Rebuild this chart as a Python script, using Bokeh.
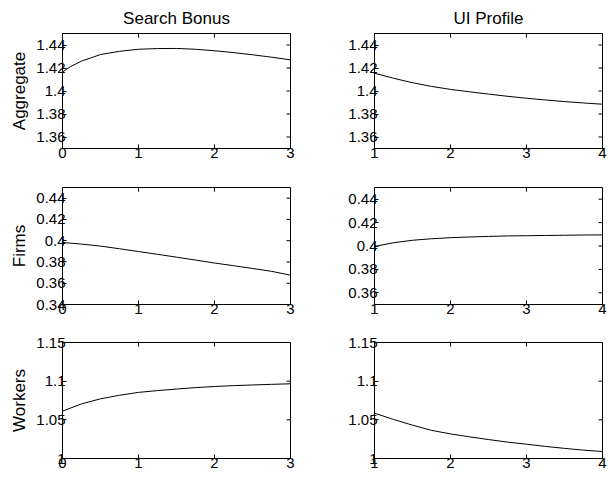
import math
from bokeh.plotting import figure
from bokeh.layouts import column, row
from bokeh.models import FixedTicker, LinearAxis, CustomJSTickFormatter, Range1d
from bokeh.embed import file_html
from bokeh.resources import INLINE

# ---- data ----
col_titles = ["Search Bonus", "UI Profile"]
row_labels = ["Aggregate", "Firms", "Workers"]

x_sb = [0, 0.1, 0.25, 0.5, 0.75, 1, 1.25, 1.5, 1.75, 2, 2.25, 2.5, 2.75, 3]
x_ui = [1, 1.25, 1.5, 1.75, 2, 2.25, 2.5, 2.75, 3, 3.25, 3.5, 3.75, 4]

agg_sb = [1.4165, 1.4210, 1.4260, 1.4317, 1.4345, 1.4363, 1.4369, 1.4370, 1.4363, 1.4350, 1.4334, 1.4315, 1.4294, 1.4271]
firms_sb = [0.3983, 0.3977, 0.3968, 0.3949, 0.3924, 0.3898, 0.3872, 0.3845, 0.3818, 0.3790, 0.3765, 0.3739, 0.3712, 0.3676]
workers_sb = [1.0612, 1.0650, 1.0706, 1.0772, 1.0818, 1.0855, 1.0878, 1.0898, 1.0917, 1.0931, 1.0942, 1.0951, 1.0959, 1.0966]

agg_ui = [1.4155, 1.4111, 1.4072, 1.4040, 1.4014, 1.3993, 1.3973, 1.3954, 1.3937, 1.3922, 1.3908, 1.3896, 1.3885]
firms_ui = [0.3996, 0.4028, 0.4049, 0.4062, 0.4071, 0.4077, 0.4082, 0.4086, 0.4088, 0.4090, 0.4092, 0.4094, 0.4095]
workers_ui = [1.0586, 1.0505, 1.0431, 1.0364, 1.0318, 1.0280, 1.0245, 1.0212, 1.0185, 1.0156, 1.0131, 1.0108, 1.0090]

xticks_sb = [0, 1, 2, 3]
xticks_ui = [1, 2, 3, 4]
yticks_agg = [1.36, 1.38, 1.40, 1.42, 1.44]
yticks_firms_sb = [0.34, 0.36, 0.38, 0.40, 0.42, 0.44]
yticks_firms_ui = [0.36, 0.38, 0.40, 0.42, 0.44]
yticks_workers = [1.0, 1.05, 1.1, 1.15]

yrange_agg = (1.35, 1.45)
yrange_firms_sb = (0.34, 0.45)
yrange_firms_ui = (0.35, 0.45)
yrange_workers = (1.0, 1.15)

FONT = "Liberation Sans"
fmt_js = "return String(Math.round(tick*10000)/10000);"

# layout: frame sizes and borders (Bokeh's page template has no body margin)
col_fw = [228, 228]
col_bl = [62, 66]
col_br = [18, 8]
row_fh = [115, 117, 116]
row_bt = [33, 21, 20]
row_bb = [18, 18, 20]


def make(r, c, x, y, xr, yr, xt, yt, title=None, ylabel=None):
    p = figure(frame_width=col_fw[c], frame_height=row_fh[r],
               output_backend="svg", toolbar_location=None,
               x_range=Range1d(*xr), y_range=Range1d(*yr),
               min_border_left=col_bl[c], min_border_right=col_br[c],
               min_border_top=row_bt[r], min_border_bottom=row_bb[r],
               x_axis_type=None, y_axis_type=None)
    p.grid.visible = False
    p.outline_line_color = "black"
    p.outline_line_width = 1
    p.background_fill_color = "white"
    p.border_fill_color = "white"
    fmt = CustomJSTickFormatter(code=fmt_js)
    common = dict(axis_line_color="black", major_tick_line_color="black", major_tick_in=4,
                  major_tick_out=0, minor_tick_line_color=None)
    xa = LinearAxis(ticker=FixedTicker(ticks=xt), formatter=fmt, major_label_standoff=-1,
                    major_label_text_font=FONT, major_label_text_font_size="15px",
                    major_label_text_color="black", **common)
    p.add_layout(xa, "below")
    ya = LinearAxis(ticker=FixedTicker(ticks=yt), formatter=fmt, major_label_standoff=-3,
                    major_label_text_font=FONT, major_label_text_font_size="15px",
                    major_label_text_color="black", **common)
    if ylabel:
        ya.axis_label = ylabel
        ya.axis_label_text_font = FONT
        ya.axis_label_text_font_size = "17px"
        ya.axis_label_text_font_style = "normal"
        ya.axis_label_text_color = "black"
        ya.axis_label_standoff = 4
    p.add_layout(ya, "left")
    if title:
        p.title.text = title
        p.title.align = "center"
        p.title.text_font = FONT
        p.title.text_font_size = "17px"
        p.title.text_font_style = "normal"
        p.title.text_color = "black"
        p.title.standoff = 12
    # inward tick marks on the top and right edges (half of each dash is clipped by the frame)
    p.scatter(xt, [yr[1]] * len(xt), marker="dash", size=8, angle=math.pi / 2,
              line_color="black", line_width=1)
    p.scatter([xr[1]] * len(yt), yt, marker="dash", size=8,
              line_color="black", line_width=1)
    p.line(x, y, line_color="black", line_width=1)
    return p


p11 = make(0, 0, x_sb, agg_sb, (0, 3), yrange_agg, xticks_sb, yticks_agg, col_titles[0], row_labels[0])
p12 = make(0, 1, x_ui, agg_ui, (1, 4), yrange_agg, xticks_ui, yticks_agg, col_titles[1])
p21 = make(1, 0, x_sb, firms_sb, (0, 3), yrange_firms_sb, xticks_sb, yticks_firms_sb, None, row_labels[1])
p22 = make(1, 1, x_ui, firms_ui, (1, 4), yrange_firms_ui, xticks_ui, yticks_firms_ui)
p31 = make(2, 0, x_sb, workers_sb, (0, 3), yrange_workers, xticks_sb, yticks_workers, None, row_labels[2])
p32 = make(2, 1, x_ui, workers_ui, (1, 4), yrange_workers, xticks_ui, yticks_workers)

layout = column(row(p11, p12), row(p21, p22), row(p31, p32))

open("out.html", "w").write(file_html(layout, INLINE))
